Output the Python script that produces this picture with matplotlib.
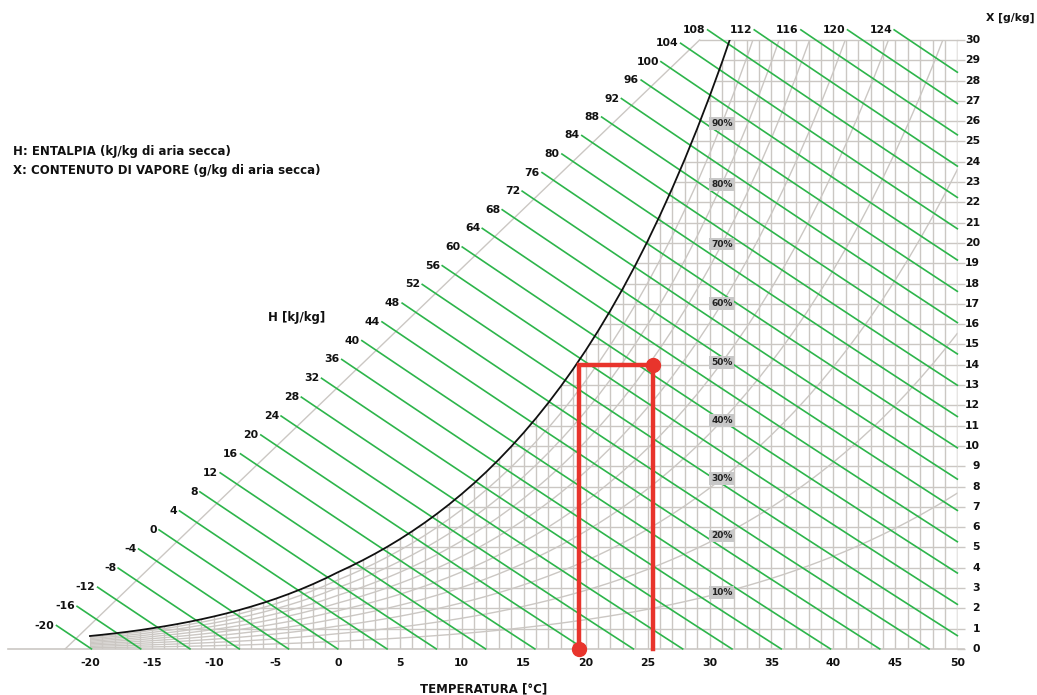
import numpy as np
import matplotlib
matplotlib.use("Agg")
import matplotlib.pyplot as plt
from matplotlib.path import Path
from matplotlib.patches import PathPatch

# saturation pressure of water vapour [kPa] from -20 to 50 C (over ice below 0)
T_TAB = list(range(-20, 51))
P_SAT = [0.1035, 0.1136, 0.1248, 0.1369, 0.1502, 0.1653, 0.1811, 0.1983, 0.2172, 0.2377,
         0.2599, 0.2839, 0.3100, 0.3382, 0.3687, 0.4017, 0.4374, 0.4760, 0.5177, 0.5626,
         0.6112, 0.6571, 0.7060, 0.7581, 0.8135, 0.8726, 0.9354, 1.0021, 1.0730, 1.1482,
         1.2282, 1.3129, 1.4028, 1.4981, 1.5989, 1.7057, 1.8188, 1.9383, 2.0647, 2.1982,
         2.3392, 2.4881, 2.6452, 2.8109, 2.9856, 3.1697, 3.3637, 3.5679, 3.7828, 4.0089,
         4.2467, 4.4966, 4.7592, 5.0351, 5.3247, 5.6286, 5.9475, 6.2818, 6.6324, 6.9997,
         7.3844, 7.7873, 8.2090, 8.6503, 9.1118, 9.5944, 10.099, 10.626, 11.177, 11.752,
         12.352]
P_ATM = 101.325

H_LINES = list(range(-20, 125, 4))
RH_LEVELS = [10, 20, 30, 40, 50, 60, 70, 80, 90]
T_TICKS = list(range(-20, 51, 5))
X_TICKS = list(range(0, 31))

# the red construction: dew point, dry bulb, vapour content
T_DEW = 19.5
T_DRY = 25.4
X_POINT = 14

GRAY = "#cbc7c3"
GREEN = "#2db54b"
RED = "#e8342c"
NUM = dict(family="DejaVu Sans", fontweight="bold", fontsize=7.8, color="#111111")
TXT = dict(family="DejaVu Sans", fontweight="bold", fontsize=8.5, color="#111111")

T = np.array(T_TAB, dtype=float)
P = np.array(P_SAT)


def x_of_p(p):
    return 622.0 * p / (P_ATM - p)


def x_of_h(h, t):
    return (h - 1.006 * t) / (2.501 + 0.00186 * t)


fig = plt.figure(figsize=(10.37, 6.95), dpi=100)
ax = fig.add_axes([0, 0, 1, 1])
ax.set_xlim(-27.26, 56.43)
ax.set_ylim(-2.27, 31.97)
ax.axis("off")

# region under the saturation curve (and below X=30), used to clip the gray grid
sat_mask = T <= 32
Xs = x_of_p(P)
verts = [(t, min(x, 30.0)) for t, x in zip(T[sat_mask], Xs[sat_mask])]
verts += [(50.01, 30.0), (50.01, 0), (-20, 0), (-20, Xs[0])]
clip = PathPatch(Path(verts), transform=ax.transData, facecolor="none", edgecolor="none")
ax.add_patch(clip)

vl = ax.vlines(np.arange(-20, 51), 0, 30, color=GRAY, lw=1.0, zorder=1)
vl.set_clip_path(clip)
hl = ax.hlines(np.arange(1, 30), -20, 50, color=GRAY, lw=1.0, zorder=1)
hl.set_clip_path(clip)
ax.plot([29.2, 50], [30, 30], color=GRAY, lw=1.0, zorder=1)

# baseline, scale diagonal and right ticks
ax.plot([-26.6, 50.5], [0, 0], color=GRAY, lw=1.2, zorder=1)
ax.plot([-22.0, 29.2], [0, 30], color=GRAY, lw=1.0, zorder=1)
ax.hlines(X_TICKS, 50, 50.65, color=GRAY, lw=1.0, zorder=1)

# relative humidity curves
i31 = T_TAB.index(31)
for rh in RH_LEVELS:
    xr = x_of_p(rh / 100.0 * P)
    ln, = ax.plot(T, xr, color=GRAY, lw=1.0, zorder=2)
    ln.set_clip_path(clip)
    ax.text(31, xr[i31], f"{rh}%", ha="center", va="center", zorder=5,
            family="DejaVu Sans", fontweight="bold", fontsize=6.5, color="#222222",
            bbox=dict(boxstyle="square,pad=0.2", fc="#c8c8c8", ec="none"))

# enthalpy lines
tg = np.linspace(-30, 50, 16001)
for h in H_LINES:
    line_x = 2.69 + 0.5695 * (tg + 20)
    k = np.argmin(np.abs(line_x - x_of_h(h, tg)))
    t0, x0 = tg[k], line_x[k]
    if x0 > 30.5:
        x0 = 30.5
        t0 = (h - 30.5 * 2.501) / (1.006 + 30.5 * 0.00186)
    t1 = min(h / 1.006, 50)
    tt = np.linspace(t0, t1, 60)
    ax.plot(tt, x_of_h(h, tt), color=GREEN, lw=1.2, zorder=3)
    ax.annotate(str(h), (t0, x0), xytext=(-1.5, 0), textcoords="offset points",
                ha="right", va="center", **NUM)

# saturation curve
sat, = ax.plot(T[sat_mask], Xs[sat_mask], color="#111111", lw=1.3, zorder=4)
lim = PathPatch(Path([(-30, -5), (60, -5), (60, 30), (-30, 30)]), transform=ax.transData,
                facecolor="none", edgecolor="none")
ax.add_patch(lim)
sat.set_clip_path(lim)

# red construction
ax.plot([T_DEW, T_DEW, T_DRY, T_DRY], [0, X_POINT, X_POINT, 0], color=RED, lw=3.2,
        zorder=6, solid_joinstyle="miter")
ax.plot([T_DEW, T_DRY], [0, X_POINT], "o", color=RED, ms=10, zorder=7)

# axis labels
for t in T_TICKS:
    ax.text(t, -0.69, str(t), ha="center", va="center", **NUM)
for x in X_TICKS:
    ax.text(51.83, x, str(x), ha="right", va="center", **NUM)
ax.text(11.8, -1.97, "TEMPERATURA [\u00b0C]", ha="center", va="center", **TXT)
ax.text(54.25, 31.08, "X [g/kg]", ha="center", va="center", **NUM)
ax.text(-3.3, 16.35, "H [kJ/kg]", ha="center", va="center", **TXT)
ax.text(-26.2, 24.53, "H: ENTALPIA (kJ/kg di aria secca)", ha="left", va="center", **TXT)
ax.text(-26.2, 23.55, "X: CONTENUTO DI VAPORE (g/kg di aria secca)", ha="left", va="center", **TXT)

fig.savefig("out.png", dpi=100)
